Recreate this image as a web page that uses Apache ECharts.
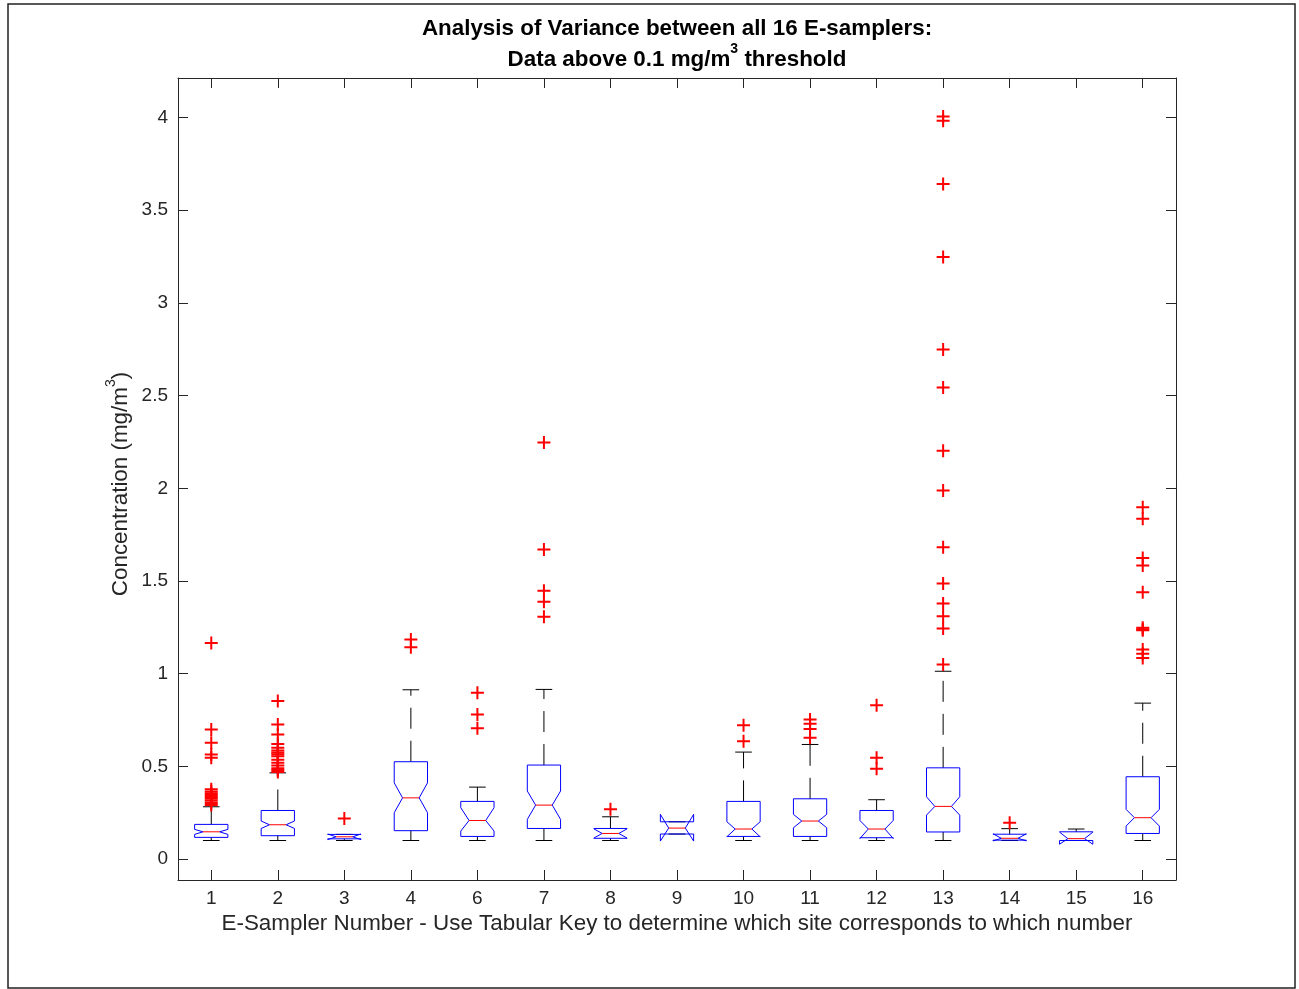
<!DOCTYPE html>
<html><head><meta charset="utf-8">
<script src="https://cdn.jsdelivr.net/npm/echarts@6/dist/echarts.min.js"></script>
<style>html,body{margin:0;padding:0;background:#fff}#c{width:1299px;height:989px}</style>
</head><body><div id="c"></div>
<script>
// E-sampler numbers (no sampler 5)
const categories = ['1','2','3','4','6','7','8','9','10','11','12','13','14','15','16'];
// Box statistics (mg/m^3)
const whiskerLow  = [0.100,0.100,0.100,0.100,0.100,0.100,0.100,0.135,0.100,0.100,0.100,0.100,0.100,0.100,0.100];
const quartile1   = [0.117,0.126,0.109,0.153,0.122,0.165,0.112,0.135,0.122,0.122,0.115,0.146,0.102,0.100,0.138];
const notchLow    = [0.133,0.165,0.105,0.250,0.151,0.214,0.113,0.097,0.120,0.169,0.111,0.237,0.098,0.080,0.178];
const medians     = [0.147,0.185,0.120,0.330,0.208,0.291,0.138,0.167,0.162,0.205,0.162,0.284,0.112,0.110,0.223];
const notchHigh   = [0.160,0.205,0.135,0.411,0.277,0.367,0.163,0.241,0.201,0.241,0.208,0.336,0.136,0.145,0.268];
const quartile3   = [0.187,0.262,0.133,0.525,0.311,0.507,0.165,0.201,0.311,0.325,0.262,0.492,0.134,0.147,0.444];
const whiskerHigh = [0.282,0.465,0.133,0.913,0.388,0.915,0.228,0.201,0.577,0.618,0.320,1.013,0.164,0.162,0.841];
// Outliers per sampler
const outliers = [
  [1.166,0.699,0.627,0.564,0.546,0.376,0.365,0.355,0.345,0.335,0.325,0.315,0.303,0.291],
  [0.852,0.726,0.672,0.620,0.600,0.585,0.575,0.565,0.555,0.535,0.520,0.505,0.490,0.480,0.470],
  [0.219],
  [1.184,1.143],
  [0.897,0.780,0.705],
  [2.247,1.670,1.447,1.388,1.307],
  [0.268],
  [],
  [0.722,0.636],
  [0.753,0.730,0.702,0.654],
  [0.830,0.546,0.487],
  [4.005,3.982,3.641,3.247,2.748,2.544,2.203,1.988,1.682,1.486,1.378,1.310,1.243,1.049],
  [0.196],
  [],
  [1.898,1.836,1.624,1.583,1.439,1.247,1.240,1.234,1.130,1.107,1.085]
];
const yTicks = [0,0.5,1,1.5,2,2.5,3,3.5,4];

const FONT = '"Liberation Sans", Arial, Helvetica, sans-serif';
const AX = '#262626';

const boxData = categories.map((c, i) => [i, whiskerLow[i], quartile1[i], notchLow[i], medians[i], notchHigh[i], quartile3[i], whiskerHigh[i]]);
const outlierData = [];
outliers.forEach((arr, i) => arr.forEach(v => outlierData.push([i, v])));

function renderBox(params, api) {
  const i = api.value(0);
  const wlo = api.value(1), q1 = api.value(2), nlo = api.value(3), med = api.value(4),
        nhi = api.value(5), q3 = api.value(6), whi = api.value(7);
  const cx = api.coord([i, med])[0];
  const Y = v => api.coord([i, v])[1];
  const band = api.size([1, 0])[0];
  const h = band * 0.25, n = band * 0.125;
  const pts = [[cx-h,Y(q1)],[cx-h,Y(nlo)],[cx-n,Y(med)],[cx-h,Y(nhi)],[cx-h,Y(q3)],
               [cx+h,Y(q3)],[cx+h,Y(nhi)],[cx+n,Y(med)],[cx+h,Y(nlo)],[cx+h,Y(q1)]];
  const dash = {stroke:'#000', lineWidth:1, lineDash:[21,12], fill:null};
  const solid = {stroke:'#000', lineWidth:1, fill:null};
  return {type:'group', children:[
    {type:'line', shape:{x1:cx,y1:Y(q3),x2:cx,y2:Y(whi)}, style:dash},
    {type:'line', shape:{x1:cx,y1:Y(q1),x2:cx,y2:Y(wlo)}, style:dash},
    {type:'line', shape:{x1:cx-n,y1:Y(whi),x2:cx+n,y2:Y(whi)}, style:solid},
    {type:'line', shape:{x1:cx-n,y1:Y(wlo),x2:cx+n,y2:Y(wlo)}, style:solid},
    {type:'polygon', shape:{points:pts}, style:{fill:null, stroke:'#0000ff', lineWidth:1}},
    {type:'line', shape:{x1:cx-n,y1:Y(med),x2:cx+n,y2:Y(med)}, style:{stroke:'#ff0000', lineWidth:1}}
  ]};
}

const chart = echarts.init(document.getElementById('c'), null, {renderer:'canvas'});
const tickCommon = {show:true, inside:true, length:10, alignWithLabel:true, interval:0, lineStyle:{color:AX, width:1}};
const lineCommon = {show:true, onZero:false, lineStyle:{color:AX, width:1}};
chart.setOption({
  animation:false,
  backgroundColor:'#fff',
  textStyle:{fontFamily:FONT},
  grid:{left:178, right:123, top:78, bottom:109, containLabel:false},
  graphic:[
    {type:'rect', shape:{x:8, y:4, width:1287, height:984}, style:{fill:null, stroke:'#222', lineWidth:1.5}, silent:true},
    {type:'text', x:677, y:29, style:{text:'Analysis of Variance between all 16 E-samplers:', fontSize:22.4, fontWeight:'bold', fontFamily:FONT, fill:'#000', align:'center', verticalAlign:'middle'}},
    {type:'text', x:677, y:60, style:{text:'Data above 0.1 mg/m{sup|3} threshold', fontSize:22.4, fontWeight:'bold', fontFamily:FONT, fill:'#000', align:'center', verticalAlign:'middle', lineHeight:36,
      rich:{sup:{fontSize:14, fontWeight:'bold', fontFamily:FONT, fill:'#000', lineHeight:15, verticalAlign:'top'}}}}
  ],
  xAxis:[
    {type:'category', data:categories, position:'bottom', boundaryGap:true,
     axisLine:lineCommon,
     axisTick:tickCommon,
     axisLabel:{interval:0, fontSize:19, color:AX, margin:9, fontFamily:FONT},
     splitLine:{show:false},
     name:'E-Sampler Number - Use Tabular Key to determine which site corresponds to which number',
     nameLocation:'middle', nameGap:33,
     nameTextStyle:{fontSize:22.4, color:AX, fontFamily:FONT}},
    {type:'category', data:categories, position:'top', boundaryGap:true,
     axisLine:lineCommon,
     axisTick:tickCommon, axisLabel:{show:false}, splitLine:{show:false}}
  ],
  yAxis:[
    {type:'value', min:-0.113, max:4.213, position:'left',
     axisLine:lineCommon,
     axisTick:{show:true, inside:true, length:10, customValues:yTicks, lineStyle:{color:AX, width:1}},
     axisLabel:{customValues:yTicks, fontSize:19, color:AX, margin:10, fontFamily:FONT},
     splitLine:{show:false},
     name:'Concentration (mg/m{sup|3})', nameLocation:'middle', nameGap:40, nameRotate:90, nameMoveOverlap:false,
     nameTextStyle:{fontSize:22.4, color:AX, fontFamily:FONT, lineHeight:34, padding:[0,10,0,0],
       rich:{sup:{fontSize:14, color:AX, fontFamily:FONT, lineHeight:15, verticalAlign:'top'}}}},
    {type:'value', min:-0.113, max:4.213, position:'right',
     axisLine:lineCommon,
     axisTick:{show:true, inside:true, length:10, customValues:yTicks, lineStyle:{color:AX, width:1}},
     axisLabel:{show:false}, splitLine:{show:false}}
  ],
  series:[
    {type:'custom', name:'boxes', xAxisIndex:0, yAxisIndex:0, renderItem:renderBox,
     encode:{x:0, y:[1,2,3,4,5,6,7]}, data:boxData, z:2},
    {type:'scatter', name:'outliers', xAxisIndex:0, yAxisIndex:0, data:outlierData,
     symbol:'path://M0,5.5H13V7.5H0Z M5.5,0H7.5V13H5.5Z', symbolSize:13,
     itemStyle:{color:'#ff0000', opacity:1}, z:3}
  ]
});
</script>
</body></html>
